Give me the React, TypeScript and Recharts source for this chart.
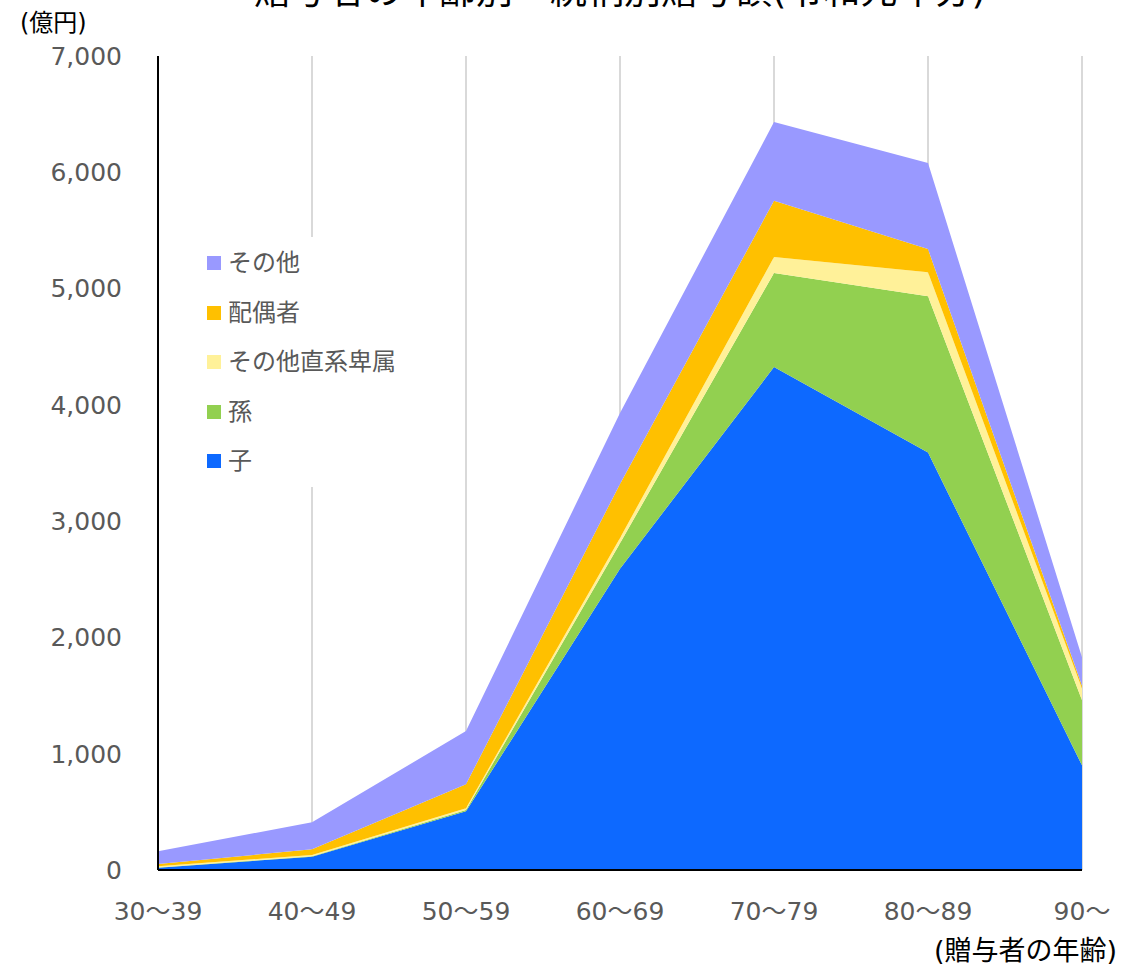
import React from 'react';
import { AreaChart, Area, XAxis, YAxis, CartesianGrid, Legend } from 'recharts';

// 贈与者の年齢階級
const ages = ['30〜39', '40〜49', '50〜59', '60〜69', '70〜79', '80〜89', '90〜'];

// 続柄別の贈与額(億円)
const child = [20, 115, 505, 2590, 4325, 3590, 900];
const grandchild = [2, 3, 12, 220, 809, 1345, 560];
const otherLineal = [10, 12, 15, 45, 137, 205, 100];
const spouse = [20, 48, 205, 465, 484, 200, 25];
const others = [110, 232, 458, 610, 677, 740, 245];

const yTicks = [0, 1000, 2000, 3000, 4000, 5000, 6000, 7000];

// 積み上げ順(下から)
const series = [
  { key: 'child', name: '子', color: '#0D69FF', values: child },
  { key: 'grandchild', name: '孫', color: '#92D050', values: grandchild },
  { key: 'otherLineal', name: 'その他直系卑属', color: '#FFF199', values: otherLineal },
  { key: 'spouse', name: '配偶者', color: '#FFC000', values: spouse },
  { key: 'others', name: 'その他', color: '#9999FF', values: others },
];

const data = ages.map((age, i) => {
  const row: Record<string, string | number> = { age };
  series.forEach((s) => {
    row[s.key] = s.values[i];
  });
  return row;
});

const FONT = '"DejaVu Sans", "Noto Sans CJK JP", sans-serif';
const W = 1124;
const H = 965;

const LegendBox = () => (
  <div
    style={{
      background: '#fff',
      width: 215,
      height: 250,
      fontFamily: FONT,
      fontSize: 24,
      color: '#595959',
      position: 'relative',
    }}
  >
    {[...series].reverse().map((s, i) => (
      <div
        key={s.key}
        style={{
          position: 'absolute',
          left: 12,
          top: 26 + i * 49.5 - 17,
          height: 34,
          display: 'flex',
          alignItems: 'center',
          whiteSpace: 'nowrap',
        }}
      >
        <span style={{ display: 'inline-block', width: 14, height: 14, background: s.color, marginRight: 7 }} />
        <span style={{ lineHeight: '34px' }}>{s.name}</span>
      </div>
    ))}
  </div>
);

export default function App() {
  return (
    <div style={{ position: 'absolute', left: 0, top: 0, width: W, height: H, background: '#fff' }}>
      <AreaChart
        width={W}
        height={H}
        data={data}
        margin={{ top: 56, right: 42, bottom: 55, left: 58 }}
      >
        <CartesianGrid horizontal={false} vertical stroke="#D9D9D9" strokeWidth={2} />
        <XAxis
          dataKey="age"
          height={40}
          interval={0}
          tickLine={false}
          tickSize={0}
          tickMargin={32}
          axisLine={{ stroke: '#000', strokeWidth: 2 }}
          tick={{ fill: '#595959', fontSize: 25, fontFamily: FONT }}
        />
        <YAxis
          width={100}
          domain={[0, 7000]}
          ticks={yTicks}
          interval={0}
          tickLine={false}
          tickSize={0}
          tickMargin={36}
          axisLine={{ stroke: '#000', strokeWidth: 2 }}
          tickFormatter={(v: number) => v.toLocaleString('en-US')}
          tick={{ fill: '#595959', fontSize: 25, fontFamily: FONT }}
        />
        {series.map((s) => (
          <Area
            key={s.key}
            type="linear"
            dataKey={s.key}
            name={s.name}
            stackId="1"
            stroke="none"
            fill={s.color}
            fillOpacity={1}
            dot={false}
            activeDot={false}
            isAnimationActive={false}
          />
        ))}
        <Legend
          layout="vertical"
          align="center"
          verticalAlign="middle"
          wrapperStyle={{ left: 195, top: 237, width: 215, height: 250 }}
          content={() => <LegendBox />}
        />
      </AreaChart>
      <svg
        width={W}
        height={H}
        style={{ position: 'absolute', left: 0, top: 0, pointerEvents: 'none' }}
      >
        <text x={620} y={4} textAnchor="middle" fontFamily={FONT} fontSize={37} fill="#000">
          贈与者の年齢別・続柄別贈与額(令和元年分)
        </text>
        <text x={20} y={31} fontFamily={FONT} fontSize={24} fill="#000">
          (億円)
        </text>
        <text x={1117} y={960} textAnchor="end" fontFamily={FONT} fontSize={27} fill="#000">
          (贈与者の年齢)
        </text>
      </svg>
    </div>
  );
}
